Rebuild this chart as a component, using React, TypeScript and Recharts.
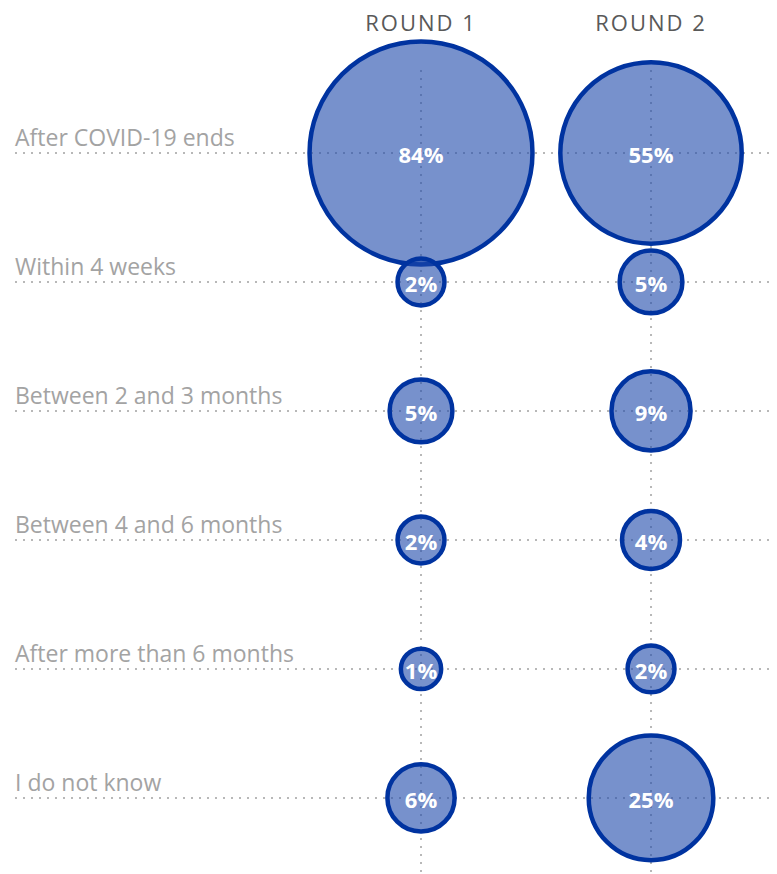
import { ScatterChart, Scatter, XAxis, YAxis, ZAxis, ReferenceLine, LabelList } from "recharts";

const categories = [
  "After COVID-19 ends",
  "Within 4 weeks",
  "Between 2 and 3 months",
  "Between 4 and 6 months",
  "After more than 6 months",
  "I do not know",
];
const rounds = ["ROUND 1", "ROUND 2"];
const round1 = [84, 2, 5, 2, 1, 6];
const round2 = [55, 5, 9, 4, 2, 25];

const FONT = "'Open Sans', sans-serif";
const rowValues = categories.map((_, i) => categories.length - i);
const roundValues = rounds.map((_, i) => i + 1);

const toPoints = (values: number[], round: number) =>
  values.map((v, i) => ({ x: round, y: categories.length - i, z: v }));

const RoundTick = (props: any) => {
  const { x, payload } = props;
  return (
    <text x={x} y={31} textAnchor="middle" fill="#595959" fontSize={22} fontFamily={FONT} letterSpacing={2}>
      {rounds[payload.value - 1]}
    </text>
  );
};

const CategoryTick = (props: any) => {
  const { y, payload } = props;
  return (
    <text x={15} y={y - 7} textAnchor="start" fill="#a3a3a3" fontSize={23} fontFamily={FONT}>
      {categories[categories.length - payload.value]}
    </text>
  );
};

const dotted = { stroke: "#b8b8b8", strokeWidth: 2, strokeDasharray: "2 6" };

export default function App() {
  return (
    <div style={{ position: "absolute", left: 0, top: 0, background: "#fff" }}>
      <ScatterChart width={777} height={874} margin={{ top: 0, right: 5, bottom: 0, left: 0 }}>
        <XAxis
          type="number"
          dataKey="x"
          orientation="top"
          domain={[-0.7652, 2.526]}
          ticks={roundValues}
          height={70}
          axisLine={false}
          tickLine={false}
          tick={<RoundTick />}
        />
        <YAxis
          type="number"
          dataKey="y"
          domain={[0.41, 6.643]}
          ticks={rowValues}
          width={15}
          axisLine={false}
          tickLine={false}
          tick={<CategoryTick />}
        />
        <ZAxis type="number" dataKey="z" domain={[0, 84]} range={[820, 39040]} />
        {rowValues.map((v) => (
          <ReferenceLine key={`h${v}`} y={v} {...dotted} />
        ))}
        {roundValues.map((v) => (
          <ReferenceLine key={`v${v}`} x={v} {...dotted} />
        ))}
        {[round1, round2].map((vals, r) => (
          <Scatter
            key={rounds[r]}
            data={toPoints(vals, r + 1)}
            fill="#1c48aa"
            fillOpacity={0.6}
            stroke="#0033a0"
            strokeWidth={4.5}
            isAnimationActive={false}
          >
            <LabelList
              dataKey="z"
              position="center"
              formatter={(v: any) => `${v}%`}
              fill="#fff"
              fontSize={22}
              fontWeight={700}
              fontFamily={FONT}
              dy={2}
            />
          </Scatter>
        ))}
      </ScatterChart>
    </div>
  );
}
